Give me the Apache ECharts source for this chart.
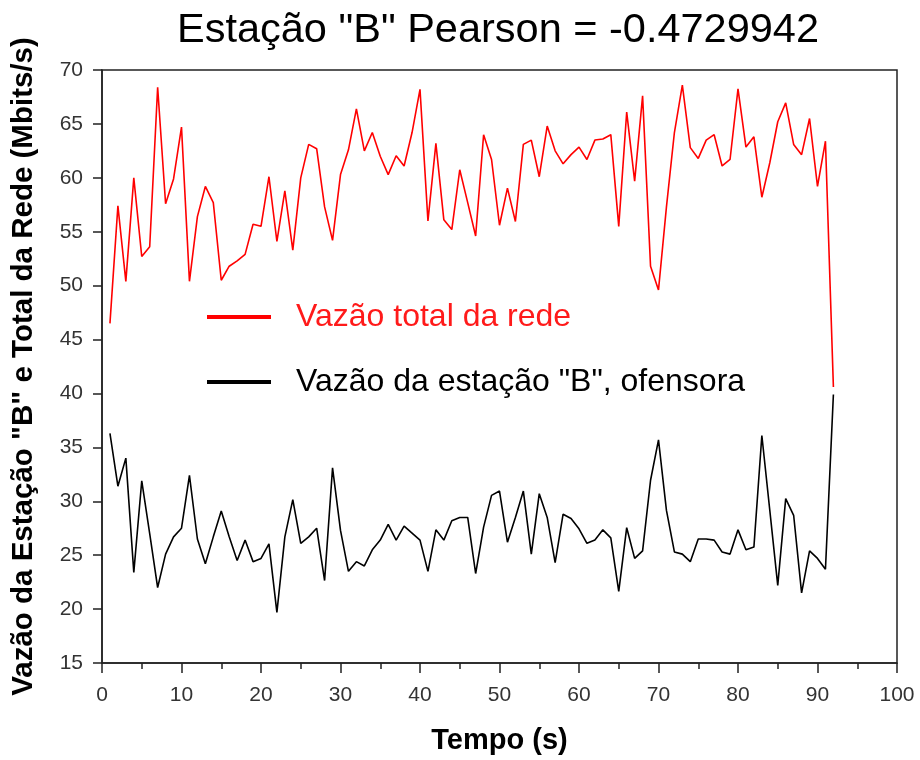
<!DOCTYPE html>
<html>
<head>
<meta charset="utf-8">
<script src="https://cdn.jsdelivr.net/npm/echarts@6/dist/echarts.min.js"></script>
<style>html,body{margin:0;padding:0;background:#fff;}#chart{width:920px;height:760px;}</style>
</head>
<body>
<div id="chart"></div>
<script>
var tempo = [1,2,3,4,5,6,7,8,9,10,11,12,13,14,15,16,17,18,19,20,21,22,23,24,25,26,27,28,29,30,31,32,33,34,35,36,37,38,39,40,41,42,43,44,45,46,47,48,49,50,51,52,53,54,55,56,57,58,59,60,61,62,63,64,65,66,67,68,69,70,71,72,73,74,75,76,77,78,79,80,81,82,83,84,85,86,87,88,89,90,91,92];
var vazaoTotal = [46.5,57.4,50.4,60.0,52.7,53.6,68.4,57.6,59.9,64.7,50.4,56.4,59.2,57.7,50.5,51.8,52.3,52.9,55.7,55.5,60.1,54.1,58.8,53.3,60.0,63.1,62.7,57.3,54.2,60.3,62.6,66.4,62.5,64.2,62.0,60.3,62.05,61.1,64.2,68.2,56.0,63.2,56.1,55.2,60.75,57.7,54.6,64.0,61.7,55.6,59.05,55.95,63.1,63.5,60.1,64.8,62.5,61.3,62.15,62.85,61.7,63.5,63.6,64.0,55.5,66.1,59.7,67.6,51.8,49.6,57.3,64.2,68.6,62.8,61.8,63.5,64.0,61.1,61.7,68.25,62.85,63.8,58.2,61.4,65.2,66.95,63.1,62.15,65.5,59.2,63.4,40.6];
var vazaoB = [36.3,31.4,34.0,23.4,31.9,27.0,22.0,25.1,26.7,27.5,32.4,26.5,24.2,26.7,29.1,26.7,24.5,26.4,24.4,24.7,26.05,19.7,26.7,30.15,26.1,26.7,27.5,22.65,33.1,27.3,23.5,24.4,24.0,25.5,26.4,27.85,26.4,27.7,27.05,26.4,23.5,27.35,26.4,28.2,28.5,28.5,23.3,27.6,30.55,30.95,26.2,28.5,30.95,25.1,30.7,28.5,24.3,28.8,28.4,27.45,26.1,26.4,27.35,26.6,21.65,27.55,24.7,25.4,31.95,35.7,29.15,25.3,25.1,24.4,26.5,26.5,26.4,25.3,25.1,27.35,25.5,25.75,36.1,29.15,22.2,30.25,28.7,21.5,25.4,24.7,23.7,39.9];
var nomeTotal = 'Vazão total da rede';
var nomeB = 'Vazão da estação "B", ofensora';
var titulo = 'Estação "B" Pearson = -0.4729942';
var nomeX = 'Tempo (s)';
var nomeY = 'Vazão da Estação "B" e Total da Rede (Mbits/s)';

function pares(xs, ys) { return xs.map(function (x, i) { return [x, ys[i]]; }); }

var FONT = '"Liberation Sans", Arial, sans-serif';
var chart = echarts.init(document.getElementById('chart'), null, {renderer: 'canvas'});
chart.setOption({
  animation: false,
  backgroundColor: '#ffffff',
  title: {
    text: titulo, left: 172, top: 5,
    textStyle: {fontFamily: FONT, fontSize: 41.5, fontWeight: 'normal', color: '#000'}
  },
  legend: [
    {data: [{name: nomeTotal, textStyle: {color: '#ff1a1a'}}], left: 202, top: 296, icon: 'rect', itemWidth: 64, itemHeight: 4,
     textStyle: {fontFamily: FONT, fontSize: 32, padding: [0, 0, 0, 20]}, selectedMode: false},
    {data: [{name: nomeB, textStyle: {color: '#000'}}], left: 202, top: 361, icon: 'rect', itemWidth: 64, itemHeight: 4,
     textStyle: {fontFamily: FONT, fontSize: 32, padding: [0, 0, 0, 20]}, selectedMode: false}
  ],
  grid: {left: 102, right: 23, top: 70, bottom: 97, show: true, borderColor: '#222', borderWidth: 1.5, backgroundColor: 'transparent'},
  xAxis: {
    type: 'value', min: 0, max: 100, interval: 10,
    name: nomeX, nameLocation: 'middle', nameGap: 63,
    nameTextStyle: {fontFamily: FONT, fontSize: 29, fontWeight: 'bold', color: '#000'},
    axisLine: {show: true, lineStyle: {color: '#222', width: 1.5}},
    axisTick: {show: true, inside: false, length: 10, lineStyle: {color: '#222', width: 1.5}},
    minorTick: {show: true, splitNumber: 2, length: 6, lineStyle: {color: '#222', width: 1.5}},
    splitLine: {show: false}, minorSplitLine: {show: false},
    axisLabel: {fontFamily: FONT, fontSize: 21, color: '#333', margin: 22}
  },
  yAxis: {
    type: 'value', min: 15, max: 70, interval: 5,
    name: nomeY, nameLocation: 'middle', nameGap: 63, nameRotate: 90,
    nameTextStyle: {fontFamily: FONT, fontSize: 29.5, fontWeight: 'bold', color: '#000'},
    axisLine: {show: true, lineStyle: {color: '#222', width: 1.5}},
    axisTick: {show: true, inside: false, length: 9, lineStyle: {color: '#222', width: 1.5}},
    splitLine: {show: false},
    axisLabel: {fontFamily: FONT, fontSize: 21, color: '#333', margin: 19}
  },
  series: [
    {name: nomeTotal, type: 'line', data: pares(tempo, vazaoTotal), showSymbol: false, symbol: 'none',
     itemStyle: {color: '#ff0000'}, lineStyle: {color: '#ff0000', width: 1.6}},
    {name: nomeB, type: 'line', data: pares(tempo, vazaoB), showSymbol: false, symbol: 'none',
     itemStyle: {color: '#000000'}, lineStyle: {color: '#000000', width: 1.6}}
  ]
});
</script>
</body>
</html>
